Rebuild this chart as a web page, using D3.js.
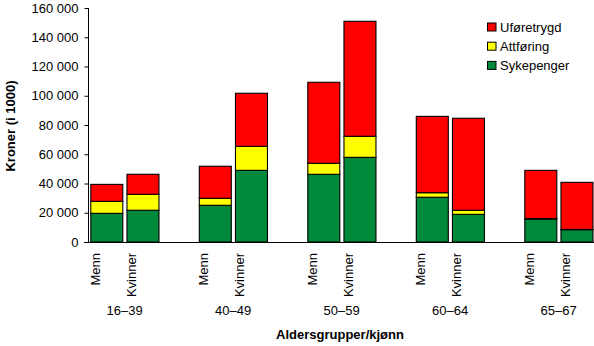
<!DOCTYPE html>
<html>
<head>
<meta charset="utf-8">
<script src="https://cdn.jsdelivr.net/npm/d3@7"></script>
<style>
  html, body { margin: 0; padding: 0; background: #fff; }
  svg { display: block; font-family: "Liberation Sans", Arial, Helvetica, sans-serif; }
</style>
</head>
<body>
<svg id="chart" width="594" height="346"></svg>
<script>
// ---- Data (kroner i 1000) ----
const groups = ["16–39", "40–49", "50–59", "60–64", "65–67"];
const sexes = ["Menn", "Kvinner"];
const sykepenger = [19600, 21700, 25100, 49000, 46300, 57900, 30600, 18900, 15700, 8400];
const attforing  = [8200, 10900, 4800, 16400, 7500, 14400, 3100, 2800, 300, 200];
const uforetrygd = [11600, 13700, 21900, 36300, 55400, 78600, 52200, 62900, 33000, 32200];
const yTicks = [0, 20000, 40000, 60000, 80000, 100000, 120000, 140000, 160000];
const seriesNames = ["Sykepenger", "Attføring", "Uføretrygd"];
const seriesColors = ["#00893a", "#ffff00", "#ff0000"];

// ---- Build table ----
const rows = [];
groups.forEach((g, gi) => {
  sexes.forEach((s, si) => {
    const i = gi * 2 + si;
    rows.push({ key: g + "|" + s, group: g, sex: s,
      "Sykepenger": sykepenger[i], "Attføring": attforing[i], "Uføretrygd": uforetrygd[i] });
  });
});
// slots: Menn, Kvinner, blank per group
const slots = [];
groups.forEach(g => { slots.push(g + "|Menn", g + "|Kvinner", g + "|gap"); });

const svg = d3.select("#chart");
const x = d3.scaleBand().domain(slots).range([88, 630.5]).padding(0);
const y = d3.scaleLinear().domain([0, 160000]).range([242, 8]);

const stack = d3.stack().keys(seriesNames);
const stacked = stack(rows);

// bars
const barOffset = 2.8, barW = 32;
svg.append("g").selectAll("g")
  .data(stacked).join("g")
  .attr("fill", (d, i) => seriesColors[i])
  .selectAll("rect")
  .data(d => d.map(v => ({ v, key: v.data.key })))
  .join("rect")
  .attr("x", d => x(d.key) + barOffset)
  .attr("width", barW)
  .attr("y", d => y(d.v[1]))
  .attr("height", d => y(d.v[0]) - y(d.v[1]))
  .attr("stroke", "#000")
  .attr("stroke-width", 1.1);

// y axis
const yAxis = d3.axisLeft(y).tickValues(yTicks).tickSize(4).tickPadding(6)
  .tickFormat(d => d3.format(",")(d).replace(/,/g, " "));
const ya = svg.append("g").attr("transform", "translate(88.5,0)").call(yAxis);
ya.select(".domain").attr("d", "M0,8V242.5").attr("stroke", "#000");
ya.selectAll(".tick line").attr("stroke", "#000");
ya.selectAll("text").attr("font-size", 13).attr("fill", "#000")
  .attr("font-family", "'Liberation Sans', Arial, sans-serif");

// x axis line
svg.append("line").attr("x1", 84).attr("x2", 594).attr("y1", 242.5).attr("y2", 242.5)
  .attr("stroke", "#000").attr("stroke-width", 1);

// sex labels (rotated)
svg.append("g").selectAll("text").data(rows).join("text")
  .attr("transform", d => `translate(${x(d.key) + 11.5},253) rotate(-90)`)
  .attr("text-anchor", "end")
  .attr("font-size", 13)
  .attr("fill", "#000")
  .text(d => d.sex);

// group labels
svg.append("g").selectAll("text").data(groups).join("text")
  .attr("x", g => x(g + "|Kvinner") + 0.5)
  .attr("y", 315)
  .attr("text-anchor", "middle")
  .attr("font-size", 13)
  .attr("fill", "#000")
  .text(g => g);

// axis titles
svg.append("text")
  .attr("x", 340).attr("y", 339)
  .attr("text-anchor", "middle")
  .attr("font-size", 13).attr("font-weight", "bold")
  .text("Aldersgrupper/kjønn");
svg.append("text")
  .attr("transform", "translate(15,126) rotate(-90)")
  .attr("text-anchor", "middle")
  .attr("font-size", 13).attr("font-weight", "bold")
  .text("Kroner (i 1000)");

// legend
const legendOrder = [2, 1, 0];
const lg = svg.append("g").selectAll("g").data(legendOrder).join("g")
  .attr("transform", (d, i) => `translate(487.5,${23 + i * 19.2})`);
lg.append("rect").attr("width", 8.5).attr("height", 8)
  .attr("fill", d => seriesColors[d]).attr("stroke", "#000").attr("stroke-width", 1);
lg.append("text").attr("x", 12.5).attr("y", 8.5)
  .attr("font-size", 13).attr("fill", "#000")
  .text(d => seriesNames[d]);
</script>
</body>
</html>
